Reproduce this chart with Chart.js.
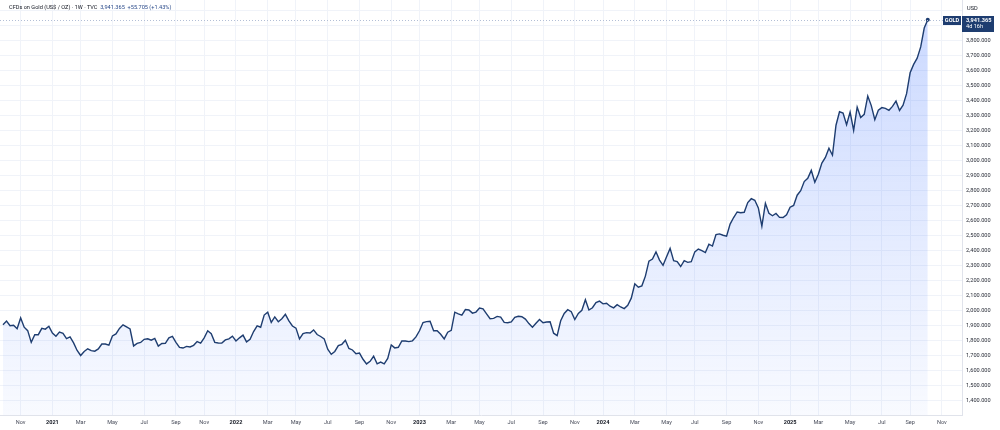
<!DOCTYPE html>
<html>
<head>
<meta charset="utf-8">
<script src="https://cdn.jsdelivr.net/npm/chart.js@4.4.1/dist/chart.umd.min.js"></script>
<style>
  html, body { margin: 0; padding: 0; background: #fff; }
  #wrap { position: relative; width: 1000px; height: 430px; font-family: Roboto, "Open Sans", sans-serif; }
  #header { position: absolute; left: 9px; top: 4px; font-size: 5.6px; color: #131722; white-space: pre; }
  #header .val { color: #2a4a8a; }
  #usd { position: absolute; left: 967px; top: 5px; font-size: 5.6px; color: #131722; }
</style>
</head>
<body>
<div id="wrap">
  <canvas id="goldChart" width="1000" height="430"></canvas>
  <div id="header">CFDs on Gold (US$ / OZ) · 1W · TVC  <span class="val">3,941.365  +55.705 (+1.43%)</span></div>
  <div id="usd">USD</div>
</div>
<script>
// weekly closes, one week per value, first week starts Mon 28 Sep 2020
const closes2020 = [1905, 1930, 1899, 1902, 1879, 1951, 1889, 1866, 1788, 1839, 1839, 1881, 1876, 1895];
const closes2021 = [1850, 1829, 1856, 1848, 1813, 1824, 1784, 1734, 1700, 1727, 1745, 1733, 1729,
    1744, 1777, 1777, 1769, 1831, 1844, 1881, 1905, 1891, 1877, 1764, 1781, 1787, 1808, 1812, 1802, 1814,
    1763, 1780, 1781, 1818, 1828, 1788, 1754, 1750, 1761, 1757, 1768, 1793, 1783, 1818, 1865, 1846, 1788,
    1784, 1783, 1804, 1811, 1829];
const closes2022 = [1797, 1818, 1836, 1791, 1808, 1860, 1898, 1889, 1970, 1989, 1921, 1958, 1926,
    1946, 1975, 1931, 1897, 1883, 1811, 1846, 1853, 1850, 1871, 1840, 1827, 1811, 1742, 1708, 1727, 1766,
    1775, 1802, 1747, 1737, 1712, 1716, 1675, 1644, 1661, 1695, 1644, 1656, 1645, 1681, 1771, 1751, 1755,
    1797, 1797, 1793, 1798, 1824];
const closes2023 = [1865, 1920, 1926, 1928, 1865, 1865, 1842, 1811, 1856, 1868, 1989, 1978, 1969,
    2007, 2004, 1983, 1990, 2017, 2011, 1978, 1946, 1948, 1961, 1957, 1921, 1919, 1925, 1955, 1962, 1959,
    1943, 1913, 1889, 1915, 1940, 1919, 1924, 1925, 1849, 1833, 1932, 1981, 2006, 1993, 1940, 1981, 2002,
    2072, 2004, 2019, 2053, 2063];
const closes2024 = [2045, 2049, 2029, 2018, 2039, 2024, 2013, 2035, 2083, 2179, 2156, 2165, 2230,
    2330, 2344, 2392, 2337, 2302, 2360, 2415, 2333, 2327, 2294, 2333, 2322, 2326, 2392, 2411, 2400, 2387,
    2443, 2431, 2507, 2512, 2503, 2497, 2577, 2621, 2658, 2653, 2656, 2721, 2747, 2736, 2685, 2563, 2716,
    2650, 2633, 2648, 2622, 2621, 2640];
const closes2025 = [2690, 2702, 2770, 2800, 2861, 2883, 2936, 2857, 2910, 2984, 3022, 3084, 3037,
    3237, 3327, 3319, 3240, 3325, 3203, 3358, 3289, 3310, 3432, 3368, 3274, 3337, 3355, 3350, 3337, 3363,
    3398, 3336, 3371, 3448, 3587, 3643, 3685, 3760, 3886, 3941.365];

const MONTHS = ['Jan', 'Feb', 'Mar', 'Apr', 'May', 'Jun', 'Jul', 'Aug', 'Sep', 'Oct', 'Nov', 'Dec'];
const PRICE_TICKS = [1400, 1500, 1600, 1700, 1800, 1900, 2000, 2100, 2200, 2300, 2400, 2500, 2600,
    2700, 2800, 2900, 3000, 3100, 3200, 3300, 3400, 3500, 3600, 3700, 3800, 3900, 4000];
const SYMBOL = 'GOLD';
const LAST_PRICE = '3,941.365';
const TIME_LEFT = '4d 16h';

const closes = [].concat(closes2020, closes2021, closes2022, closes2023, closes2024, closes2025);
const lastIdx = closes.length - 1;
const WEEKS_SHOWN = 272; // price scale runs a few weeks past the last bar

// week start dates, then a tick on the first week of every other month
const firstWeek = Date.UTC(2020, 8, 28);
const weekDates = [];
for (let i = 0; i < WEEKS_SHOWN; i++) {
    weekDates.push(new Date(firstWeek + i * 7 * 86400000));
}
const tickIdx = [];
const tickText = {};
const yearTick = {};
weekDates.forEach((d, i) => {
    if (i === 0) return;
    const m = d.getUTCMonth();
    if (m !== weekDates[i - 1].getUTCMonth() && m % 2 === 0) {
        tickIdx.push(i);
        tickText[i] = m === 0 ? String(d.getUTCFullYear()) : MONTHS[m];
        yearTick[i] = m === 0;
    }
});

const FONT = 'Roboto, "Open Sans", sans-serif';
const LINE = '#1e3d70';
const GRID = '#f0f3f9';

const fmtPrice = v => v.toLocaleString('en-US', { minimumFractionDigits: 3, maximumFractionDigits: 3 });

// scales ask for room for their edge labels; the plot should run to the canvas edge
const noEdgePadding = s => { s.paddingTop = 0; s.paddingBottom = 0; s.paddingLeft = 0; s.paddingRight = 0; };

const lastPricePlugin = {
    id: 'lastPrice',
    afterDatasetsDraw(chart) {
        const { ctx, chartArea, scales } = chart;
        const py = Math.round(scales.y.getPixelForValue(closes[lastIdx])) + 0.5;
        ctx.save();
        ctx.strokeStyle = '#b3bfd6';
        ctx.lineWidth = 1;
        ctx.setLineDash([1, 2]);
        ctx.beginPath();
        ctx.moveTo(chartArea.left, py);
        ctx.lineTo(chartArea.right, py);
        ctx.stroke();
        ctx.restore();
    },
    afterDraw(chart) {
        const { ctx, chartArea, scales } = chart;
        const py = Math.round(scales.y.getPixelForValue(closes[lastIdx]));
        ctx.save();
        // symbol tag
        ctx.fillStyle = LINE;
        ctx.fillRect(chartArea.right - 19, py - 4, 18, 9);
        ctx.fillStyle = '#ffffff';
        ctx.font = 'bold 5.6px ' + FONT;
        ctx.textAlign = 'center';
        ctx.textBaseline = 'middle';
        ctx.fillText(SYMBOL, chartArea.right - 10, py + 0.5);
        // price tag on the scale
        ctx.fillStyle = LINE;
        ctx.fillRect(chartArea.right, py - 4, 32, 16);
        ctx.fillStyle = '#ffffff';
        ctx.textAlign = 'left';
        ctx.font = 'bold 5.6px ' + FONT;
        ctx.fillText(LAST_PRICE, chartArea.right + 4, py + 0.5);
        ctx.font = '5.6px ' + FONT;
        ctx.fillText(TIME_LEFT, chartArea.right + 4, py + 7);
        ctx.restore();
    }
};

const ctx = document.getElementById('goldChart').getContext('2d');

new Chart(ctx, {
    type: 'line',
    data: {
        datasets: [{
            label: 'GOLD',
            data: closes.map((v, i) => ({ x: i, y: v })),
            borderColor: LINE,
            borderWidth: 1.4,
            tension: 0,
            fill: 'start',
            backgroundColor: c => {
                const area = c.chart.chartArea;
                if (!area) return 'rgba(41, 98, 255, 0.1)';
                const g = c.chart.ctx.createLinearGradient(0, area.top, 0, area.bottom);
                g.addColorStop(0, 'rgba(41, 98, 255, 0.25)');
                g.addColorStop(1, 'rgba(41, 98, 255, 0.03)');
                return g;
            },
            pointRadius: c => c.dataIndex === lastIdx ? 2 : 0,
            pointBackgroundColor: LINE,
            pointBorderWidth: 0
        }]
    },
    options: {
        responsive: false,
        animation: false,
        devicePixelRatio: 1,
        layout: { padding: 0, autoPadding: false },
        plugins: {
            legend: { display: false },
            tooltip: { enabled: false }
        },
        scales: {
            x: {
                type: 'linear',
                min: -0.85,
                max: WEEKS_SHOWN - 0.3,
                afterBuildTicks: s => { s.ticks = tickIdx.map(v => ({ value: v })); },
                afterFit: s => { s.height = 15; noEdgePadding(s); },
                ticks: {
                    autoSkip: false,
                    maxRotation: 0,
                    padding: 4,
                    font: c => ({ family: FONT, size: 5.6, weight: c.tick && yearTick[c.tick.value] ? 'bold' : 'normal' }),
                    color: c => c.tick && yearTick[c.tick.value] ? '#131722' : '#4a4e5c',
                    callback: v => tickText[v]
                },
                grid: { color: GRID, drawTicks: false },
                border: { color: '#e0e3eb' }
            },
            y: {
                position: 'right',
                min: 1303,
                max: 4073,
                afterBuildTicks: s => { s.ticks = PRICE_TICKS.map(v => ({ value: v })); },
                afterFit: s => { s.width = 38; noEdgePadding(s); },
                ticks: {
                    padding: 4,
                    crossAlign: 'near',
                    font: { family: FONT, size: 5.6 },
                    color: '#2a2e39',
                    callback: v => v > 3850 ? '' : fmtPrice(v)
                },
                grid: { color: GRID, drawTicks: false },
                border: { color: '#e0e3eb' }
            }
        }
    },
    plugins: [lastPricePlugin]
});
</script>
</body>
</html>
